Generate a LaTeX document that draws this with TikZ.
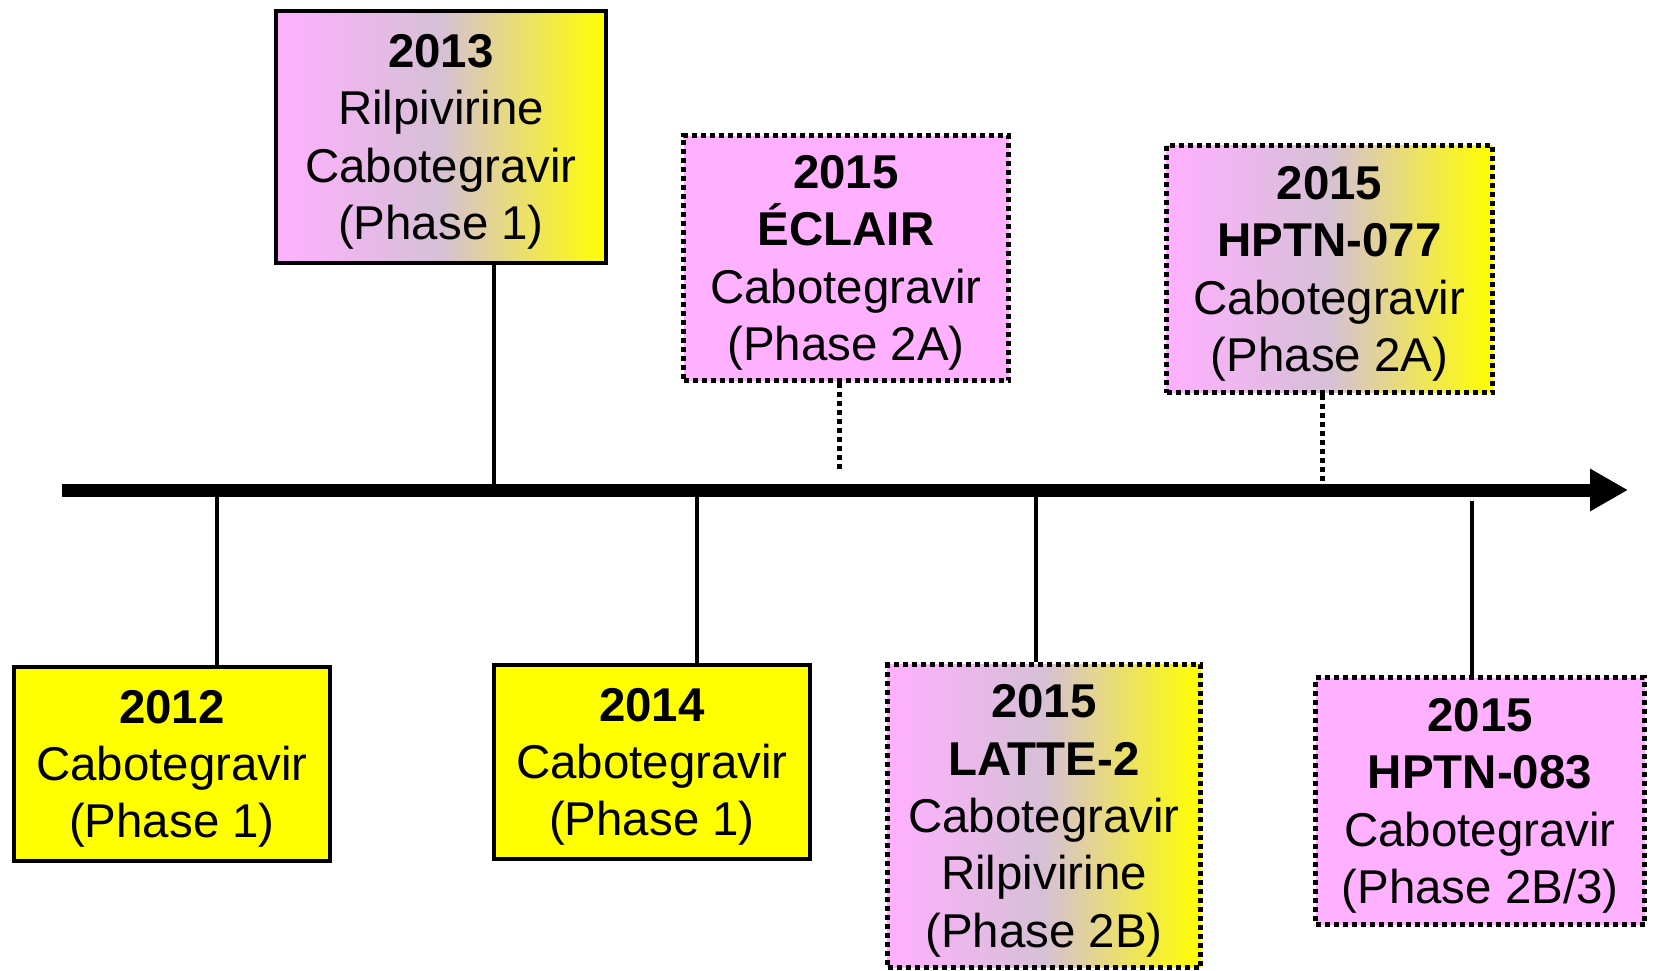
\documentclass[tikz,border=0pt]{standalone}
\usepackage{fontspec}
\setmainfont{Liberation Sans}
\usetikzlibrary{arrows.meta}
\definecolor{boxpink}{RGB}{255,176,255}
\definecolor{boxyellow}{RGB}{255,255,0}
\definecolor{boxgrey}{RGB}{214,192,214}
\begin{document}
\begin{tikzpicture}[x=0.2mm,y=-0.2mm,
	trial/.style={draw=black,line width=0.8mm,align=center,inner sep=0pt,font=\fontsize{27}{32.6}\selectfont,text depth=0pt},
	dotline/.style={line width=1mm,dash pattern=on 1mm off 0.8mm},
	yellowbox/.style={trial,fill=boxyellow},
	pinkbox/.style={trial,fill=boxpink,dotline},
	mixbox/.style={trial,left color=boxpink,right color=boxyellow,middle color=boxgrey},
	tick/.style={line width=0.8mm}]
	\useasboundingbox (0,0) rectangle (1653,971);
	% boxes
	\node[yellowbox,minimum width=63.2mm,minimum height=38.8mm] (b2012) at (172,764) {\textbf{2012}\\Cabotegravir\\(Phase 1)};
	\node[mixbox,minimum width=66mm,minimum height=50.4mm] (b2013) at (441,137) {\textbf{2013}\\Rilpivirine\\Cabotegravir\\(Phase 1)};
	\node[yellowbox,minimum width=63.2mm,minimum height=38.8mm] (b2014) at (652,762) {\textbf{2014}\\Cabotegravir\\(Phase 1)};
	\node[pinkbox,minimum width=65mm,minimum height=49mm] (beclair) at (846,258) {\textbf{2015}\\\textbf{ÉCLAIR}\\Cabotegravir\\(Phase 2A)};
	\node[mixbox,dotline,minimum width=65.2mm,minimum height=49.4mm] (bhptna) at (1329.5,269) {\textbf{2015}\\\textbf{HPTN-077}\\Cabotegravir\\(Phase 2A)};
	\node[mixbox,dotline,minimum width=62.6mm,minimum height=60.6mm] (blatte) at (1044,816) {\textbf{2015}\\\textbf{LATTE-2}\\Cabotegravir\\Rilpivirine\\(Phase 2B)};
	\node[pinkbox,minimum width=65.8mm,minimum height=49.4mm] (bhptnb) at (1480,801) {\textbf{2015}\\\textbf{HPTN-083}\\Cabotegravir\\(Phase 2B/3)};
	% time axis
	\coordinate (start) at (62,490);
	\coordinate (end) at (1628,490);
	\draw[line width=2.6mm,-{Triangle[length=7.6mm,width=8mm]}] (start) -- (end);
	\coordinate (t2012) at (217,490);
	\coordinate (t2013) at (494,490);
	\coordinate (t2014) at (697,490);
	\coordinate (teclair) at (839,472);
	\coordinate (tlatte) at (1036,490);
	\coordinate (thptna) at (1322,490);
	\coordinate (thptnb) at (1472,501);
	% ticks
	\draw[tick] (t2012) -- (t2012 |- b2012.north);
	\draw[tick] (b2013.south -| t2013) -- (t2013);
	\draw[tick] (t2014) -- (t2014 |- b2014.north);
	\draw[tick,dotline] (beclair.south -| teclair) -- (teclair);
	\draw[tick] (tlatte) -- (tlatte |- blatte.north);
	\draw[tick,dotline] (bhptna.south -| thptna) -- (thptna);
	\draw[tick] (thptnb) -- (thptnb |- bhptnb.north);
\end{tikzpicture}
\end{document}
